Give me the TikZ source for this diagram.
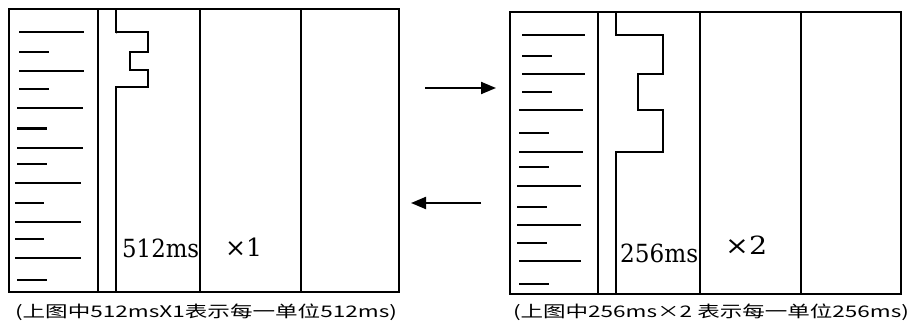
\documentclass[tikz,border=0pt]{standalone}
\usepackage{fontspec}
\setmainfont{DejaVu Serif}
\newfontfamily\cjk{Noto Sans CJK SC}
\usetikzlibrary{arrows.meta}
\tikzset{
  frame/.style={draw=black, line width=1.4pt},
  tick/.style={draw=black, line width=1.4pt},
  boldtick/.style={draw=black, line width=3pt},
  stair/.style={draw=black, line width=1.4pt},
  flow/.style={draw=black, line width=2pt, -{Triangle[length=15pt,width=12pt]}},
  unit/.style={inner sep=0pt, font=\fontsize{25}{27}\selectfont},
  caption/.style={inner sep=0pt, font=\cjk\fontsize{16}{18}\selectfont},
}
\begin{document}
\begin{tikzpicture}[x=1pt,y=-1pt]
\useasboundingbox (0,0) rectangle (912,324);
% ---------- left panel ----------
\draw[frame] (9,9) rectangle (399,292);
\draw[frame] (98,9) -- (98,292);
\draw[frame] (200,9) -- (200,292);
\draw[frame] (301,9) -- (301,292);
\draw[stair] (116,9) -- (116,32) -- (148,32) -- (148,52) -- (130,52) -- (130,70) -- (148,70) -- (148,87) -- (116,87) -- (116,292);
\fill (116.5,32) circle (1.5pt);
\foreach \y/\a/\b in {32/19/84, 52/19/49, 71/19/84, 89/19/49, 108/17/83, 148/17/83, 164/17/47, 183/15/81, 203/15/44, 222/15/81, 239/15/44, 258/15/81, 280/17/47}
  \draw[tick] (\a,\y) -- (\b,\y);
\draw[boldtick] (17,128) -- (47,128);
\node[unit, anchor=west] (u1) at (122,248) {\resizebox{77pt}{\height}{512ms}};
\node[unit, anchor=west] (m1) at (225,247) {\resizebox{37pt}{\height}{×1}};
\node[caption] (c1) at (206,312) {\resizebox{382pt}{\height}{(上图中512msX1表示每一单位512ms)}};
% ---------- right panel ----------
\draw[frame] (510,12) rectangle (901,294);
\draw[frame] (598,12) -- (598,294);
\draw[frame] (700,12) -- (700,294);
\draw[frame] (801,12) -- (801,294);
\draw[stair] (616,12) -- (616,35) -- (663,35) -- (663,74) -- (638,74) -- (638,110) -- (663,110) -- (663,152) -- (616,152) -- (616,294);
\foreach \y/\a/\b in {35/522/585, 56/522/552, 74/522/585, 92/522/552, 110/519/583, 133/519/549, 152/519/583, 167/519/549, 186/517/581, 207/517/547, 225/517/581, 243/517/547, 261/519/581, 284/519/549}
  \draw[tick] (\a,\y) -- (\b,\y);
\node[unit, anchor=west] (u2) at (620,253) {\resizebox{78pt}{\height}{256ms}};
\node[unit, anchor=west] (m2) at (725,245) {\resizebox{42pt}{\height}{×2}};
\node[caption] (c2) at (711,312) {\resizebox{396pt}{\height}{(上图中256ms×2 表示每一单位256ms)}};
% ---------- arrows ----------
\coordinate (a1s) at (425,88);
\coordinate (a1e) at (496,88);
\coordinate (a2s) at (481,203);
\coordinate (a2e) at (411,203);
\draw[flow] (a1s) -- (a1e);
\draw[flow] (a2s) -- (a2e);
\end{tikzpicture}
\end{document}
